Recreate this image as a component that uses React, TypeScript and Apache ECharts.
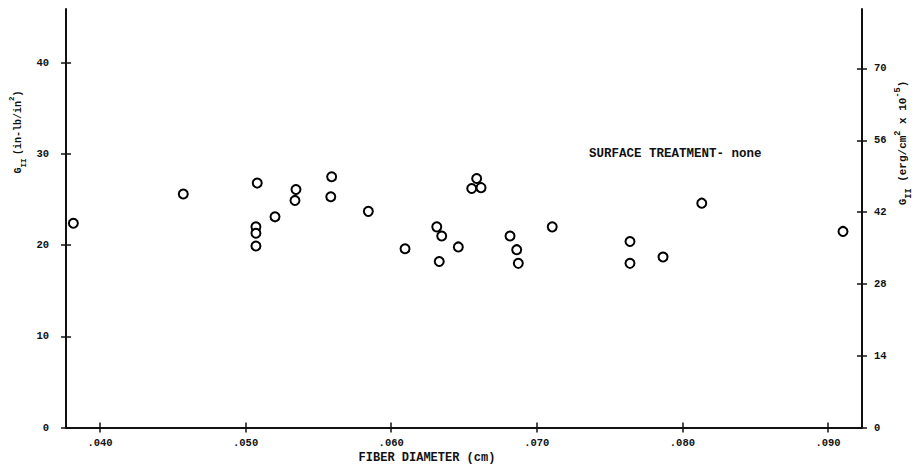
import React, { useEffect, useRef } from "react";
import * as echarts from "echarts";

// Fiber diameter (cm) vs G_II (in-lb/in^2)
const diameters = [
  0.03817, 0.04572, 0.0508, 0.05071, 0.05071, 0.05071, 0.05202, 0.05346, 0.05339,
  0.05591, 0.05585, 0.05843, 0.06587, 0.06553, 0.06617, 0.06313, 0.06347, 0.06095,
  0.06461, 0.0633, 0.06816, 0.06862, 0.06873, 0.07106, 0.0764, 0.0764, 0.07867,
  0.08133, 0.09103,
];
const gValues = [
  22.4, 25.6, 26.8, 22.0, 21.3, 19.9, 23.1, 26.1, 24.9,
  27.5, 25.3, 23.7, 27.3, 26.2, 26.3, 22.0, 21.0, 19.6,
  19.8, 18.2, 21.0, 19.5, 18.0, 22.0, 20.4, 18.0, 18.7,
  24.6, 21.5,
];
const xTicks = [0.04, 0.05, 0.06, 0.07, 0.08, 0.09];
const leftTicks = [0, 10, 20, 30, 40];
const rightTicks = [0, 14, 28, 42, 56, 70];

const FONT = "Liberation Mono";
const INK = "#111";

export default function App() {
  const ref = useRef<HTMLDivElement>(null);
  useEffect(() => {
    if (!ref.current) return;
    const chart = echarts.init(ref.current, undefined, { renderer: "svg" });
    const points = diameters.map((d, i) => [d, gValues[i]]);
    const axisLine = { show: true, lineStyle: { color: INK, width: 2 } };
    const xMin = 0.037665;
    const xMax = 0.092335;
    const lMax = 45.89;
    const rMax = 81.6;
    const labelFont = { fontFamily: FONT, fontSize: 10.5, fontWeight: "bold", color: INK };
    const tick = (customValues: number[], inside: boolean) => ({
      show: true,
      inside,
      customValues,
      length: 5,
      lineStyle: { color: INK, width: 1.5 },
    });
    const richStyles = (size: number) => ({
      n: { fontFamily: FONT, fontSize: size, fontWeight: "bold", fill: INK, lineHeight: 20, verticalAlign: "middle" },
      sub: { fontFamily: FONT, fontSize: size - 2.5, fontWeight: "bold", fill: INK, lineHeight: 20, verticalAlign: "bottom" },
      sup: { fontFamily: FONT, fontSize: size - 2.5, fontWeight: "bold", fill: INK, lineHeight: 20, verticalAlign: "top" },
    });
    chart.setOption({
      animation: false,
      backgroundColor: "#fff",
      grid: { left: 66, right: 59, top: 9, bottom: 37.5 },
      xAxis: [
        {
          type: "value",
          min: xMin,
          max: xMax,
          position: "bottom",
          axisLine,
          splitLine: { show: false },
          axisTick: tick(xTicks, false),
          axisLabel: {
            customValues: xTicks,
            margin: 10,
            formatter: (v: number) => v.toFixed(3).slice(1),
            ...labelFont,
          },
        },
        {
          type: "value",
          min: xMin,
          max: xMax,
          position: "bottom",
          axisLine: { show: false },
          splitLine: { show: false },
          axisTick: tick(xTicks, true),
          axisLabel: { show: false },
        },
      ],
      yAxis: [
        {
          type: "value",
          min: 0,
          max: lMax,
          position: "left",
          axisLine,
          splitLine: { show: false },
          axisTick: tick(leftTicks, false),
          axisLabel: { customValues: leftTicks, margin: 17, ...labelFont },
        },
        {
          type: "value",
          min: 0,
          max: lMax,
          position: "left",
          axisLine: { show: false },
          splitLine: { show: false },
          axisTick: tick(leftTicks, true),
          axisLabel: { show: false },
        },
        {
          type: "value",
          min: 0,
          max: rMax,
          position: "right",
          axisLine,
          splitLine: { show: false },
          axisTick: tick(rightTicks, false),
          axisLabel: { customValues: rightTicks, margin: 12, ...labelFont },
        },
        {
          type: "value",
          min: 0,
          max: rMax,
          position: "right",
          axisLine: { show: false },
          splitLine: { show: false },
          axisTick: tick(rightTicks, true),
          axisLabel: { show: false },
        },
      ],
      series: [
        {
          type: "scatter",
          xAxisIndex: 0,
          yAxisIndex: 0,
          data: points,
          symbol: "circle",
          symbolSize: 9,
          itemStyle: { color: "#fff", borderColor: "#000", borderWidth: 2, opacity: 1 },
        },
      ],
      graphic: [
        {
          type: "text",
          left: 589,
          top: 147,
          style: {
            text: "SURFACE TREATMENT- none",
            fontFamily: FONT,
            fontSize: 12.5,
            fontWeight: "bold",
            fill: INK,
          },
        },
        {
          type: "text",
          x: 427,
          y: 458,
          style: {
            text: "FIBER DIAMETER (cm)",
            fontFamily: FONT,
            fontSize: 12,
            fontWeight: "bold",
            fill: INK,
            align: "center",
            verticalAlign: "middle",
          },
        },
        {
          type: "text",
          x: 18,
          y: 132,
          rotation: Math.PI / 2,
          style: {
            text: "{n|G}{sub|II} {n|(in-lb/in}{sup|2}{n|)}",
            align: "center",
            verticalAlign: "middle",
            fill: INK,
            rich: richStyles(10),
          },
        },
        {
          type: "text",
          x: 903,
          y: 143,
          rotation: Math.PI / 2,
          style: {
            text: "{n|G}{sub|II}  {n|(erg/cm}{sup|2}{n| x 10}{sup|-5}{n|)}",
            align: "center",
            verticalAlign: "middle",
            fill: INK,
            rich: richStyles(11),
          },
        },
      ],
    });
    return () => chart.dispose();
  }, []);
  return (
    <div
      ref={ref}
      style={{ position: "fixed", left: 0, top: 0, width: 921, height: 465, background: "#fff" }}
    />
  );
}
